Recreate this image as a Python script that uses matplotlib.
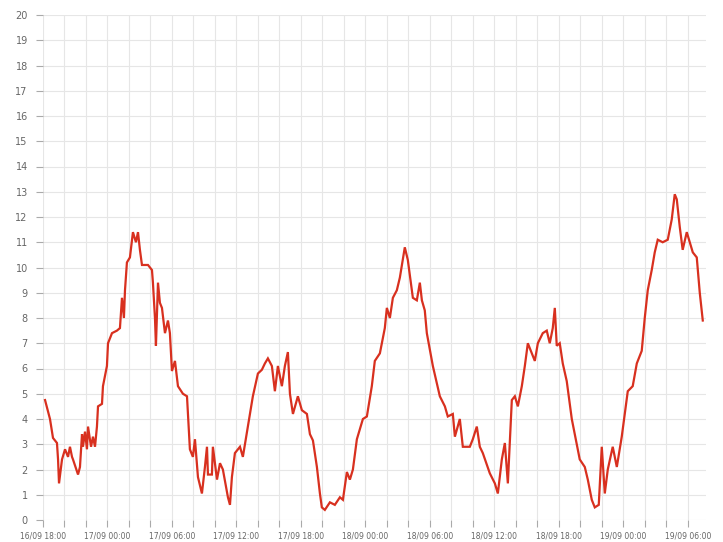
import matplotlib
matplotlib.use('Agg')
import matplotlib.pyplot as plt
from matplotlib.ticker import MultipleLocator

# hours since 16/09 18:00 and temperature readings
hours = [0.19, 0.65, 0.93, 1.30, 1.40, 1.49, 1.77, 2.05, 2.33, 2.51, 2.70, 2.79,
         3.26, 3.44, 3.63, 3.72, 3.91, 4.09, 4.19, 4.47, 4.65, 4.84, 5.02, 5.12,
         5.49, 5.58, 5.95, 6.05, 6.42, 6.88, 7.16, 7.35, 7.53, 7.63, 7.81, 8.09,
         8.37, 8.65, 8.84, 9.02, 9.21, 9.77, 10.14, 10.23, 10.42, 10.51, 10.70,
         10.88, 11.07, 11.35, 11.63, 11.81, 12.00, 12.28, 12.56, 13.02, 13.40,
         13.49, 13.67, 13.95, 14.14, 14.42, 14.79, 15.07, 15.26, 15.35, 15.72,
         15.81, 16.19, 16.47, 16.74, 17.21, 17.40, 17.58, 17.86, 18.33, 18.60,
         19.07, 19.53, 20.00, 20.37, 20.65, 20.93, 21.30, 21.58, 21.86, 22.23,
         22.51, 22.79, 22.98, 23.26, 23.72, 24.09, 24.56, 24.84, 25.12, 25.49,
         25.77, 25.95, 26.23, 26.70, 27.16, 27.63, 27.91, 28.28, 28.56, 28.84,
         29.21, 29.77, 30.14, 30.60, 30.88, 31.35, 31.81, 32.00, 32.28, 32.56,
         32.93, 33.21, 33.67, 33.95, 34.42, 34.79, 35.07, 35.26, 35.53, 35.72,
         36.28, 36.93, 37.40, 37.67, 38.14, 38.33, 38.79, 39.07, 39.72, 40.00,
         40.37, 40.65, 40.93, 41.58, 42.05, 42.33, 42.70, 42.98, 43.26, 43.63,
         43.91, 44.19, 44.56, 44.84, 45.12, 45.49, 45.77, 46.05, 46.51, 46.88,
         47.16, 47.44, 47.63, 47.81, 48.09, 48.37, 48.74, 49.21, 49.49, 49.95,
         50.42, 50.70, 51.07, 51.35, 51.72, 52.00, 52.28, 52.56, 53.02, 53.40,
         53.86, 54.14, 54.42, 54.88, 55.26, 55.72, 56.00, 56.28, 56.65, 56.93,
         57.21, 57.67, 58.14, 58.51, 58.79, 58.98, 59.26, 59.53, 59.91, 60.19,
         60.47, 60.84, 61.12, 61.40]
temps = [4.75, 4.0, 3.25, 3.05, 2.4, 1.45, 2.4, 2.8, 2.5, 2.9, 2.5, 2.4,
         1.8, 2.1, 3.4, 2.9, 3.5, 2.8, 3.7, 2.9, 3.3, 2.9, 3.7, 4.5,
         4.6, 5.3, 6.1, 7.0, 7.4, 7.5, 7.6, 8.8, 8.0, 9.1, 10.2, 10.4,
         11.4, 11.0, 11.4, 10.7, 10.1, 10.1, 9.9, 9.4, 8.0, 6.9, 9.4,
         8.6, 8.4, 7.4, 7.9, 7.4, 5.9, 6.3, 5.3, 5.0, 4.9,
         4.2, 2.8, 2.5, 3.2, 1.7, 1.05, 2.1, 2.9, 1.8, 1.8,
         2.9, 1.6, 2.25, 2.0, 0.9, 0.6, 1.7, 2.65, 2.9, 2.5,
         3.7, 4.9, 5.8, 5.95, 6.2, 6.4, 6.1, 5.1, 6.1, 5.3,
         6.1, 6.65, 5.0, 4.2, 4.9, 4.35, 4.2, 3.4, 3.15, 2.1,
         1.05, 0.5, 0.4, 0.7, 0.6, 0.9, 0.8, 1.9, 1.6, 2.0,
         3.2, 4.0, 4.1, 5.3, 6.3, 6.6, 7.6, 8.4, 8.0, 8.8,
         9.1, 9.6, 10.8, 10.3, 8.8, 8.7, 9.4, 8.7, 8.3, 7.4,
         6.1, 4.9, 4.5, 4.1, 4.2, 3.3, 4.0, 2.9, 2.9, 3.2,
         3.7, 2.9, 2.65, 1.85, 1.45, 1.05, 2.4, 3.05, 1.45, 4.75,
         4.9, 4.5, 5.3, 6.1, 7.0, 6.6, 6.3, 7.0, 7.4, 7.5,
         7.0, 7.6, 8.4, 6.9, 7.0, 6.2, 5.5, 4.0, 3.4, 2.4,
         2.1, 1.6, 0.8, 0.5, 0.6, 2.9, 1.05, 2.0, 2.9, 2.1,
         3.3, 4.2, 5.1, 5.3, 6.2, 6.7, 8.0, 9.1, 9.9, 10.6,
         11.1, 11.0, 11.1, 11.9, 12.9, 12.7, 11.6, 10.7, 11.4, 11.0,
         10.6, 10.4, 9.0, 7.9]

tick_hours = [0, 6, 12, 18, 24, 30, 36, 42, 48, 54, 60]
tick_labels = ['16/09 18:00', '17/09 00:00', '17/09 06:00', '17/09 12:00',
               '17/09 18:00', '18/09 00:00', '18/09 06:00', '18/09 12:00',
               '18/09 18:00', '19/09 00:00', '19/09 06:00']
y_ticks = list(range(0, 21))

fig = plt.figure(figsize=(7.23, 5.42), dpi=100)
ax = fig.add_axes([43 / 723, 1 - 520 / 542, (706 - 43) / 723, (520 - 15) / 542])

ax.plot(hours, temps, color='#d8301f', linewidth=1.6, solid_joinstyle='miter')

ax.set_xlim(0, 61.7)
ax.set_ylim(0, 20)
ax.set_xticks(tick_hours)
ax.set_xticklabels(tick_labels)
ax.xaxis.set_minor_locator(MultipleLocator(2))
ax.set_yticks(y_ticks)

ax.grid(True, which='both', color='#e6e6e6', linewidth=0.8)
ax.set_axisbelow(True)
for s in ax.spines.values():
    s.set_visible(False)

ax.tick_params(axis='x', which='both', direction='out', length=5, width=0.8,
               color='#aaaaaa', labelsize=5.5, labelcolor='#666666', pad=3)
ax.tick_params(axis='y', which='both', direction='out', length=5, width=0.8,
               color='#aaaaaa', labelsize=7, labelcolor='#666666', pad=6)

fig.savefig('out.png', dpi=100)
